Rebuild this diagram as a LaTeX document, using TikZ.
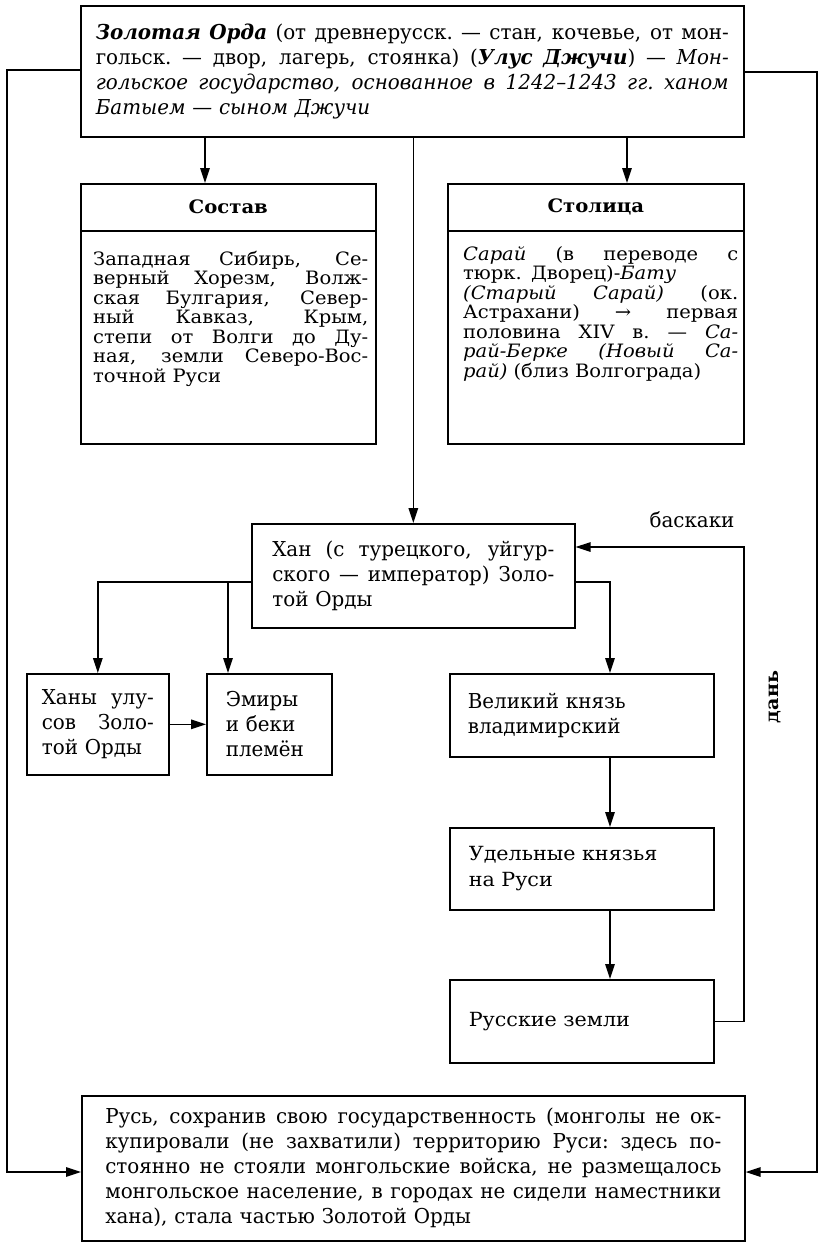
\documentclass[tikz,border=0pt]{standalone}
\usepackage{fontspec}
\setmainfont{DejaVu Serif}
\newfontfamily\cf[FakeStretch=0.97]{DejaVu Serif}
\newfontfamily\wf[FakeStretch=1.06]{DejaVu Serif}
\usetikzlibrary{arrows.meta,calc}
\newcommand{\jl}[1]{\makebox[\hsize][s]{\spaceskip=.3em plus 1fil\xspaceskip=\spaceskip #1}\\}
\tikzset{
  ln/.style={draw, line width=1.4pt},
  arr/.style={ln, -{Triangle[length=15pt,width=9.5pt]}},
  box/.style={draw, line width=1.6pt, anchor=north west, inner ysep=0pt, align=left},
  condf/.style={font=\cf\fontsize{20.5}{25}\selectfont},
  widef/.style={font=\wf\fontsize{19.5}{26}\selectfont},
  smallf/.style={font=\wf\fontsize{18.4}{19.5}\selectfont},
}
\begin{document}
\begin{tikzpicture}[x=1pt,y=-1pt]
\useasboundingbox (0,0) rectangle (819,1244);
% boxes
\node[box, condf, text width=633pt, inner xsep=15pt, minimum height=131pt] (top) at (80,5)
 {\jl{\textbf{\textit{Золотая Орда}} (от древнерусск. — стан, кочевье, от мон-}\jl{гольск. — двор, лагерь, стоянка) (\textbf{\textit{Улус Джучи}}) — \textit{Мон-}}\jl{\textit{гольское государство, основанное в 1242–1243 гг. ханом}}\textit{Батыем — сыном Джучи}};
\node[box, minimum width=295pt, minimum height=260pt, inner sep=0pt] (sostav) at (80,183) {};
\node[box, minimum width=296pt, minimum height=260pt, inner sep=0pt] (stol) at (447,183) {};
\draw[line width=1.4pt] ([yshift=-48pt]sostav.north west) -- ([yshift=-48pt]sostav.north east);
\draw[line width=1.4pt] ([yshift=-48pt]stol.north west) -- ([yshift=-48pt]stol.north east);
\node[font=\wf\bfseries\fontsize{18.5}{20}\selectfont] (sh) at ($(sostav.north)+(0,24)$) {Состав};
\node[font=\wf\bfseries\fontsize{18.5}{20}\selectfont] (th) at ($(stol.north)+(0,24)$) {Столица};
\node[smallf, anchor=north west, text width=275pt, inner sep=0pt, align=left] (sb) at (93,251)
 {\jl{Западная Сибирь, Се-}\jl{верный Хорезм, Волж-}\jl{ская Булгария, Север-}\jl{ный Кавказ, Крым,}\jl{степи от Волги до Ду-}\jl{ная, земли Северо-Вос-}точной Руси};
\node[smallf, anchor=north west, text width=275pt, inner sep=0pt, align=left] (tb) at (463,246)
 {\jl{\textit{Сарай} (в переводе с}тюрк. Дворец)-\textit{Бату}\\\jl{\textit{(Старый Сарай)} (ок.}\jl{Астрахани) → первая}\jl{половина XIV в. — \textit{Са-}}\jl{\textit{рай-Берке (Новый Са-}}\textit{рай)} (близ Волгограда)};
\node[box, condf, text width=282pt, inner xsep=20.5pt, minimum height=104pt] (han) at (251,523)
 {\jl{Хан (с турецкого, уйгур-}\jl{ского — император) Золо-}той Орды};
\node[box, condf, text width=112pt, inner xsep=15pt, minimum height=101pt] (khany) at (26,673)
 {\jl{Ханы улу-}\jl{сов Золо-}той Орды};
\node[box, condf, text width=87pt, inner xsep=19pt, minimum height=101pt] (emiry) at (206,673)
 {Эмиры\\и беки\\племён};
\node[box, condf, text width=228pt, inner xsep=18pt, minimum height=83pt] (vel) at (449,673)
 {Великий князь\\владимирский};
\node[box, widef, text width=226pt, inner xsep=19pt, minimum height=82pt] (udel) at (449,827)
 {Удельные князья\\на Руси};
\node[box, widef, text width=226pt, inner xsep=19pt, minimum height=83pt] (russ) at (449,979)
 {Русские земли};
\node[box, condf, text width=616pt, inner xsep=23.5pt, minimum height=145pt] (bot) at (81,1095)
 {\jl{Русь, сохранив свою государственность (монголы не ок-}\jl{купировали (не захватили) территорию Руси: здесь по-}\jl{стоянно не стояли монгольские войска, не размещалось}\jl{монгольское население, в городах не сидели наместники}хана), стала частью Золотой Орды};
% labels
\node[condf] (bask) at (692,520) {баскаки};
\node[rotate=90, font=\wf\bfseries\fontsize{18}{20}\selectfont] (dan) at (775,697) {дань};
% coordinates
\coordinate (lt) at (7,70); \coordinate (lb) at (7,1172);
\coordinate (rt) at (817,72); \coordinate (rb) at (817,1172);
\coordinate (a1) at (205,0); \coordinate (a2) at (627,0);
\coordinate (hb) at (0,582); \coordinate (eb) at (228,582); \coordinate (vb) at (610,582);
\coordinate (rx) at (744,0); \coordinate (hy) at (0,547);
% connectors
\draw[arr] (top.west |- lt) -- (lt) -- (lb) -- (bot.west |- lb);
\draw[arr] (top.east |- rt) -- (rt) -- (rb) -- (bot.east |- rb);
\draw[arr] (top.south -| a1) -- (sostav.north -| a1);
\draw[arr] (top.south -| a2) -- (stol.north -| a2);
\draw[arr] (top.south -| han.north) -- (han.north);
\draw[arr] (han.west |- hb) -| (khany.north);
\draw[arr] (eb) -- (eb |- emiry.north);
\draw[arr] (han.east |- hb) -- (vb) -- (vb |- vel.north);
\draw[arr] (khany.east) -- (emiry.west);
\draw[arr] (vel.south -| vb) -- (udel.north -| vb);
\draw[arr] (udel.south -| vb) -- (russ.north -| vb);
\draw[arr] (russ.east) -- (russ.east -| rx) -- (rx |- hy) -- (han.east |- hy);
\end{tikzpicture}
\end{document}
